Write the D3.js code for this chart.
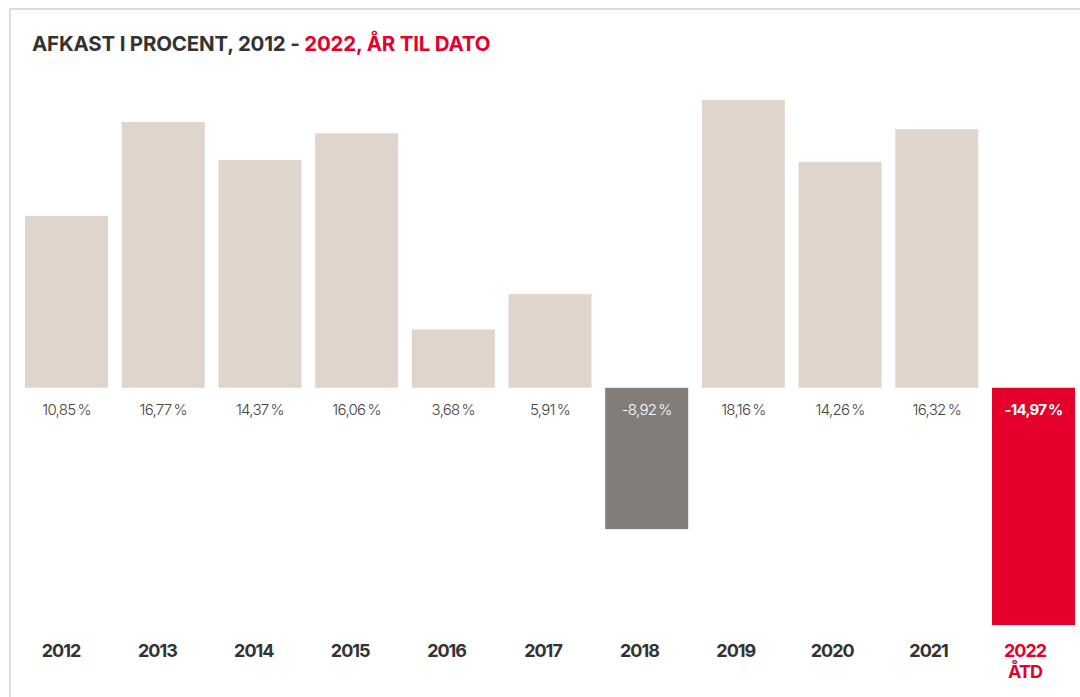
<!DOCTYPE html>
<html>
<head>
<meta charset="utf-8">
<script src="https://cdn.jsdelivr.net/npm/d3@7"></script>
<style>
  html, body { margin: 0; padding: 0; background: #fff; }
  svg { display: block; font-family: Inter, "Noto Sans", sans-serif; }
</style>
</head>
<body>
<div id="chart"></div>
<script>
// Data
const years = ['2012', '2013', '2014', '2015', '2016', '2017', '2018', '2019', '2020', '2021', '2022'];
const returns = [10.85, 16.77, 14.37, 16.06, 3.68, 5.91, -8.92, 18.16, 14.26, 16.32, -14.97];
const valueLabels = ['10,85\u2009%', '16,77\u2009%', '14,37\u2009%', '16,06\u2009%', '3,68\u2009%', '5,91\u2009%',
  '-8,92\u2009%', '18,16\u2009%', '14,26\u2009%', '16,32\u2009%', '-14,97\u2009%'];

const width = 1080, height = 697;
const beige = '#dfd5cc', grey = '#827d79', red = '#e4002b', dark = '#333333';

const svg = d3.select('#chart')
  .append('svg')
  .attr('width', width)
  .attr('height', height);

// frame
svg.append('path')
  .attr('d', `M10,${height} V9 H${width}`)
  .attr('fill', 'none')
  .attr('stroke', '#dcdcdc')
  .attr('stroke-width', 2);

// title
const title = svg.append('text')
  .attr('x', 32)
  .attr('y', 51)
  .style('font-size', '20.5px')
  .style('font-weight', 700)
  .style('letter-spacing', '-0.2px');
title.append('tspan').attr('fill', dark).text('AFKAST I PROCENT, 2012 - ');
title.append('tspan').attr('fill', red).text('2022, ÅR TIL DATO');

const x = d3.scaleBand()
  .domain(years)
  .range([25 - 6.85, 1075 + 6.85])
  .paddingInner(0.1416)
  .paddingOuter(0.0708);

// year labels sit a little left of the bar centres
const xLabel = d3.scalePoint()
  .domain(years)
  .range([61, 1025]);

const y = d3.scaleLinear()
  .domain([d3.min(returns), d3.max(returns)])
  .range([625, 100]);

const colorFor = (d, i) => i === years.length - 1 ? red : (d < 0 ? grey : beige);

svg.selectAll('.bar')
  .data(returns)
  .enter()
  .append('rect')
  .attr('class', 'bar')
  .attr('x', (d, i) => x(years[i]))
  .attr('y', d => y(Math.max(0, d)))
  .attr('width', x.bandwidth())
  .attr('height', d => Math.abs(y(d) - y(0)))
  .attr('fill', colorFor);

// value labels just below the zero line
svg.selectAll('.val')
  .data(returns)
  .enter()
  .append('text')
  .attr('class', 'val')
  .attr('x', (d, i) => x(years[i]) + x.bandwidth() / 2)
  .attr('y', y(0) + 27)
  .attr('text-anchor', 'middle')
  .style('font-size', '15px')
  .style('font-weight', (d, i) => i === years.length - 1 ? 700 : 300)
  .style('letter-spacing', '-0.7px')
  .attr('fill', d => d < 0 ? '#fff' : '#444')
  .text((d, i) => valueLabels[i]);

// year labels
const yl = svg.selectAll('.yr')
  .data(years)
  .enter()
  .append('text')
  .attr('class', 'yr')
  .attr('x', d => xLabel(d))
  .attr('y', 657)
  .attr('text-anchor', 'middle')
  .style('font-size', '18px')
  .style('font-weight', 700)
  .style('letter-spacing', '-1px')
  .attr('fill', (d, i) => i === years.length - 1 ? red : dark)
  .text(d => d);

yl.filter((d, i) => i === years.length - 1)
  .append('tspan')
  .attr('x', d => xLabel(d))
  .attr('dy', 21)
  .text('ÅTD');
</script>
</body>
</html>
